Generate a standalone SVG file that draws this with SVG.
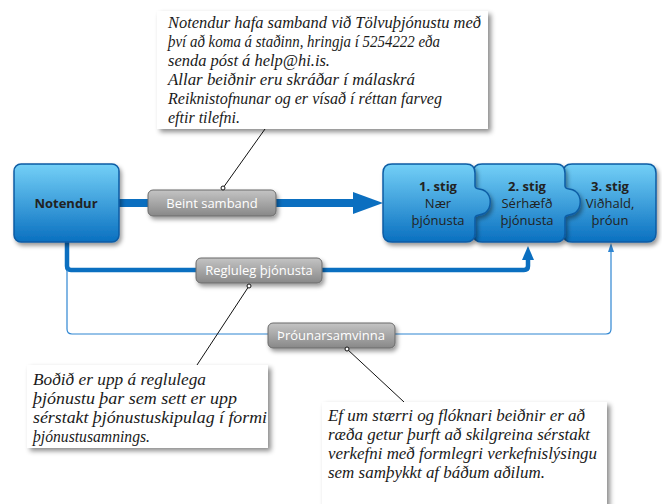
<svg xmlns="http://www.w3.org/2000/svg" width="662" height="504" viewBox="0 0 662 504">
<defs>
<linearGradient id="blue" x1="0" y1="0" x2="0" y2="1">
<stop offset="0" stop-color="#74d0f7"/>
<stop offset="1" stop-color="#0a70c0"/>
</linearGradient>
<linearGradient id="gray" x1="0" y1="0" x2="0" y2="1">
<stop offset="0" stop-color="#c4c4c4"/>
<stop offset="1" stop-color="#888888"/>
</linearGradient>
<filter id="sh" x="-10%" y="-10%" width="130%" height="140%">
<feDropShadow dx="3" dy="3" stdDeviation="2.5" flood-color="#000" flood-opacity="0.45"/>
</filter>
<filter id="shs" x="-10%" y="-20%" width="130%" height="160%">
<feDropShadow dx="2" dy="3" stdDeviation="2" flood-color="#000" flood-opacity="0.4"/>
</filter>
</defs>
<style>
.call{fill:#fff;filter:url(#sh)}
.ct{font-size:17px;fill:#1a1a1a}
.ptr{stroke:#111;stroke-width:1;fill:none}
.dot{fill:#fff;stroke:#111;stroke-width:1}
.node{fill:url(#blue);stroke:#0b5ca4;stroke-width:1.5;filter:url(#shs)}
.nt{font-family:'Open Sans','Noto Sans',sans-serif;font-size:13px;fill:#222;text-anchor:middle}
.lbl{fill:url(#gray);stroke:#6b6b6b;stroke-width:1;filter:url(#shs)}
.lt{font-family:'Open Sans','Noto Sans',sans-serif;font-size:13px;fill:#fff;text-anchor:middle}
.thick{stroke:#0b6fc0;fill:none}
</style>
<rect width="662" height="504" fill="#fff"/>

<g id="connectors">
<line class="thick" x1="118" y1="203" x2="354" y2="203" stroke-width="8"/>
<polygon points="353,192 383,203 353,214" fill="#0b6fc0"/>
<path class="thick" d="M67,242 V266 Q67,270 71,270 H524 Q528,270 528,266 V258" stroke-width="4.5"/>
<polygon points="522,260 528,246 534,260" fill="#0b6fc0"/>
<path d="M67,270 V329 Q67,334 72,334 H606 Q611,334 611,329 V250" stroke="#2f86d2" stroke-width="1.2" fill="none"/>
<polygon points="608,252 611,243 614,252" fill="#2f86d2"/>
</g>

<g id="stage3">
<path class="node" d="M572,164 H647 Q656,164 656,173 V233 Q656,242 647,242 H572 Q563,242 563,233 V173 Q563,164 572,164 Z"/>
<text class="nt" x="610" y="191" font-weight="bold">3. stig</text>
<text class="nt" x="610" y="208">Viðhald,</text>
<text class="nt" x="610" y="225">þróun</text>
</g>
<g id="stage2">
<path class="node" d="M482,164 H556 Q565,164 565,173 V186 C565,190 570,188 575,191 C582,196 582,208 575,213 C570,216 565,214 565,218 V233 Q565,242 556,242 H482 Q473,242 473,233 V173 Q473,164 482,164 Z"/>
<text class="nt" x="527" y="191" font-weight="bold">2. stig</text>
<text class="nt" x="527" y="208">Sérhæfð</text>
<text class="nt" x="527" y="225">þjónusta</text>
</g>
<g id="stage1">
<path class="node" d="M392,164 H466 Q475,164 475,173 V186 C475,190 480,188 485,191 C492,196 492,208 485,213 C480,216 475,214 475,218 V233 Q475,242 466,242 H392 Q383,242 383,233 V173 Q383,164 392,164 Z"/>
<text class="nt" x="438" y="191" font-weight="bold">1. stig</text>
<text class="nt" x="438" y="208">Nær</text>
<text class="nt" x="438" y="225">þjónusta</text>
</g>

<g id="notendur">
<rect class="node" x="14" y="164" width="105" height="78" rx="7"/>
<text class="nt" x="66" y="208" font-weight="bold" font-size="13.5">Notendur</text>
</g>

<g id="beint">
<rect class="lbl" x="148" y="190" width="128" height="26" rx="5"/>
<text class="lt" x="212" y="208">Beint samband</text>
</g>
<g id="regluleg">
<rect class="lbl" x="196" y="258" width="126" height="25" rx="5"/>
<text class="lt" x="259" y="275">Regluleg þjónusta</text>
</g>
<g id="throun">
<rect class="lbl" x="268" y="323" width="127" height="25" rx="5"/>
<text class="lt" x="331" y="340">Þróunarsamvinna</text>
</g>

<g id="callout1" font-family="Liberation Serif, serif" font-style="italic">
<line class="ptr" x1="265" y1="129" x2="223" y2="188"/>
<rect class="call" x="157" y="11" width="331" height="118"/>
<circle class="dot" cx="223" cy="188" r="2"/>
<text class="ct" x="168" y="28" textLength="313" lengthAdjust="spacingAndGlyphs">Notendur hafa samband við Tölvuþjónustu með</text>
<text class="ct" x="168" y="47" textLength="272" lengthAdjust="spacingAndGlyphs">því að koma á staðinn, hringja í 5254222 eða</text>
<text class="ct" x="168" y="66" textLength="162" lengthAdjust="spacingAndGlyphs">senda póst á help@hi.is.</text>
<text class="ct" x="168" y="85" textLength="247" lengthAdjust="spacingAndGlyphs">Allar beiðnir eru skráðar í málaskrá</text>
<text class="ct" x="168" y="104" textLength="274" lengthAdjust="spacingAndGlyphs">Reiknistofnunar og er vísað í réttan farveg</text>
<text class="ct" x="168" y="123" textLength="72" lengthAdjust="spacingAndGlyphs">eftir tilefni.</text>
</g>

<g id="callout2" font-family="Liberation Serif, serif" font-style="italic">
<line class="ptr" x1="249" y1="286" x2="197" y2="365"/>
<rect class="call" x="27" y="365" width="241" height="83"/>
<circle class="dot" cx="249" cy="286" r="2"/>
<text class="ct" x="33" y="385" textLength="173" lengthAdjust="spacingAndGlyphs">Boðið er upp á reglulega</text>
<text class="ct" x="33" y="404" textLength="204" lengthAdjust="spacingAndGlyphs">þjónustu þar sem sett er upp</text>
<text class="ct" x="33" y="423" textLength="234" lengthAdjust="spacingAndGlyphs">sérstakt þjónustuskipulag í formi</text>
<text class="ct" x="33" y="442" textLength="117" lengthAdjust="spacingAndGlyphs">þjónustusamnings.</text>
</g>

<g id="callout3" font-family="Liberation Serif, serif" font-style="italic">
<line class="ptr" x1="347" y1="349" x2="404" y2="402"/>
<rect class="call" x="322" y="402" width="285" height="110"/>
<circle class="dot" cx="347" cy="349" r="2"/>
<text class="ct" x="328" y="421" textLength="257" lengthAdjust="spacingAndGlyphs">Ef um stærri og flóknari beiðnir er að</text>
<text class="ct" x="328" y="440" textLength="262" lengthAdjust="spacingAndGlyphs">ræða getur þurft að skilgreina sérstakt</text>
<text class="ct" x="328" y="459" textLength="269" lengthAdjust="spacingAndGlyphs">verkefni með formlegri verkefnislýsingu</text>
<text class="ct" x="328" y="478" textLength="217" lengthAdjust="spacingAndGlyphs">sem samþykkt af báðum aðilum.</text>
</g>
</svg>
